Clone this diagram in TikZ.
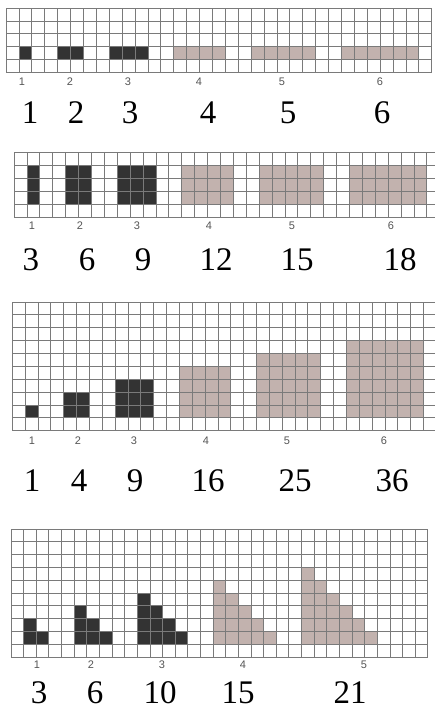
\documentclass[tikz,border=0pt]{standalone}
\usepackage{fontspec}
\setmainfont{Liberation Serif}
\newfontfamily\labfont{Liberation Sans}
\definecolor{darkfill}{HTML}{333333}
\definecolor{taupe}{HTML}{C2B2AE}
\definecolor{gridc}{HTML}{7A7A7A}
\definecolor{labc}{HTML}{555555}
\begin{document}
\begin{tikzpicture}[x=1pt,y=-1pt,
  big/.style={font=\fontsize{33}{33}\selectfont, anchor=base, inner sep=0pt},
  small/.style={font=\labfont\fontsize{11}{11}\selectfont, text=labc, anchor=base, inner sep=0pt},
  gridline/.style={draw=gridc, line width=0.8pt}]
\useasboundingbox (0,0) rectangle (435,718);
\clip (0,0) rectangle (435,718);
\fill[white] (0,0) rectangle (435,718);

% ---------- Panel 1 ----------
\begin{scope}[shift={(6,8)}, x=12.9pt, y=-12.9pt]
  \foreach \s/\n/\c in {1/1/darkfill,4/2/darkfill,8/3/darkfill,13/4/taupe,19/5/taupe,26/6/taupe}
    \fill[\c] (\s,3) rectangle ({\s+\n},4);
  \foreach \i in {0,...,33} \draw[gridline] (\i,0) -- (\i,5);
  \foreach \j in {0,...,5} \draw[gridline] (0,\j) -- (33,\j);
\end{scope}
\foreach \x [count=\k] in {22,70,128,199,282,380}
  \node[small] (pa\k) at (\x,85) {\k};
\foreach \x/\t [count=\k] in {30/1,76/2,130/3,208/4,288/5,382/6}
  \node[big] (na\k) at (\x,123) {\t};

% ---------- Panel 2 ----------
\begin{scope}[shift={(14,152.7)}, x=12.9pt, y=-13pt]
  \foreach \s/\n/\c in {1/1/darkfill,4/2/darkfill,8/3/darkfill,13/4/taupe,19/5/taupe,26/6/taupe}
    \fill[\c] (\s,1) rectangle ({\s+\n},4);
  \foreach \i in {0,...,33} \draw[gridline] (\i,0) -- (\i,5);
  \foreach \j in {0,...,5} \draw[gridline] (0,\j) -- (34,\j);
\end{scope}
\foreach \x [count=\k] in {32,80,137,209,292,391}
  \node[small] (pb\k) at (\x,229) {\k};
\foreach \x/\t [count=\k] in {31/3,87/6,143/9,216/12,297/15,400/18}
  \node[big] (nb\k) at (\x,270) {\t};

% ---------- Panel 3 ----------
\begin{scope}[shift={(12.3,302)}, x=12.85pt, y=-12.87pt]
  \foreach \s/\n/\c in {1/1/darkfill,4/2/darkfill,8/3/darkfill,13/4/taupe,19/5/taupe,26/6/taupe}
    \fill[\c] (\s,{9-\n}) rectangle ({\s+\n},9);
  \foreach \i in {0,...,33} \draw[gridline] (\i,0) -- (\i,10);
  \foreach \j in {0,...,10} \draw[gridline] (0,\j) -- (34,\j);
\end{scope}
\foreach \x [count=\k] in {32,78,134,206,287,384}
  \node[small] (pc\k) at (\x,444) {\k};
\foreach \x/\t [count=\k] in {32/1,79/4,135/9,208/16,295/25,392/36}
  \node[big] (nc\k) at (\x,491) {\t};

% ---------- Panel 4 ----------
\begin{scope}[shift={(11,529)}, x=12.63pt, y=-12.8pt]
  \foreach \s/\n/\c in {1/2/darkfill,5/3/darkfill,10/4/darkfill,16/5/taupe,23/6/taupe}
    \foreach \k in {1,...,\n}
      \fill[\c] ({\s+\k-1},{9-(\n-\k+1)}) rectangle ({\s+\k},9);
  \foreach \i in {0,...,33} \draw[gridline] (\i,0) -- (\i,10);
  \foreach \j in {0,...,10} \draw[gridline] (0,\j) -- (33,\j);
\end{scope}
\foreach \x [count=\k] in {37,91,162,243,364}
  \node[small] (pd\k) at (\x,668) {\k};
\foreach \x/\t [count=\k] in {39/3,95/6,160/10,238/15,350/21}
  \node[big] (nd\k) at (\x,703) {\t};
\end{tikzpicture}
\end{document}
